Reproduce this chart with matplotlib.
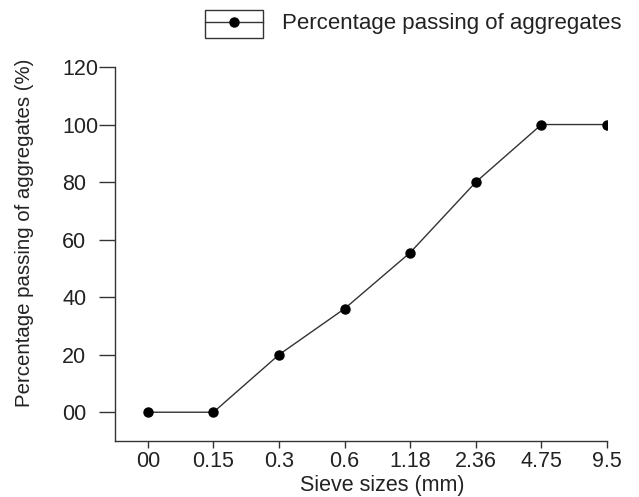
import matplotlib.pyplot as plt
from matplotlib.patches import Rectangle

plt.rcParams["font.family"] = ["Liberation Sans", "DejaVu Sans"]

sieve_labels = ["00", "0.15", "0.3", "0.6", "1.18", "2.36", "4.75", "9.5"]
passing = [0, 0, 20, 36, 55.5, 80, 100, 100]
y_ticks = [0, 20, 40, 60, 80, 100, 120]
y_labels = ["00", "20", "40", "60", "80", "100", "120"]

fig = plt.figure(figsize=(6.39, 4.97), dpi=100)
ax = fig.add_axes([0.18, 0.1127, 0.77, 0.7525])

x = list(range(len(sieve_labels)))
ax.plot(x, passing, color="#333333", lw=1.0, marker="o", ms=6.5,
        mfc="black", mec="black", label="Percentage passing of aggregates")

ax.set_xlim(-0.5, 7)
ax.set_ylim(-10, 120)
ax.set_xticks(x)
ax.set_xticklabels(sieve_labels)
ax.set_yticks(y_ticks)
ax.set_yticklabels(y_labels)

for s in ["top", "right"]:
    ax.spines[s].set_visible(False)
for s in ["left", "bottom"]:
    ax.spines[s].set_color("#333333")
    ax.spines[s].set_linewidth(1.0)

ax.tick_params(axis="x", labelsize=15.5, length=5, width=1.0, pad=2,
               color="#333333", labelcolor="#222222")
ax.tick_params(axis="y", labelsize=15.5, length=11.5, width=1.0, pad=26.6,
               color="#333333", labelcolor="#222222")
for lab in ax.get_yticklabels():
    lab.set_ha("left")

ax.set_xlabel("Sieve sizes (mm)", fontsize=15.5, color="#222222")
ax.xaxis.label.set_va("center")
ax.xaxis.set_label_coords(0.543, -0.118)
fig.text(25 / 639, 1 - 233 / 497, "Percentage passing of aggregates (%)",
         rotation=90, ha="center", va="center", fontsize=14.7,
         color="#222222")

# legend: only the handle gets a box
leg = fig.legend(loc="center left", bbox_to_anchor=(205 / 639, 1 - 24 / 497),
                 frameon=False, fontsize=16, handlelength=2.6,
                 handletextpad=0.85, borderpad=0, borderaxespad=0,
                 labelcolor="#222222")
fig.patches.append(Rectangle((205 / 639, 1 - 38 / 497), 58 / 639, 28 / 497,
                             transform=fig.transFigure, fill=False,
                             ec="#333333", lw=1.0))

fig.savefig("out.png", dpi=100)
